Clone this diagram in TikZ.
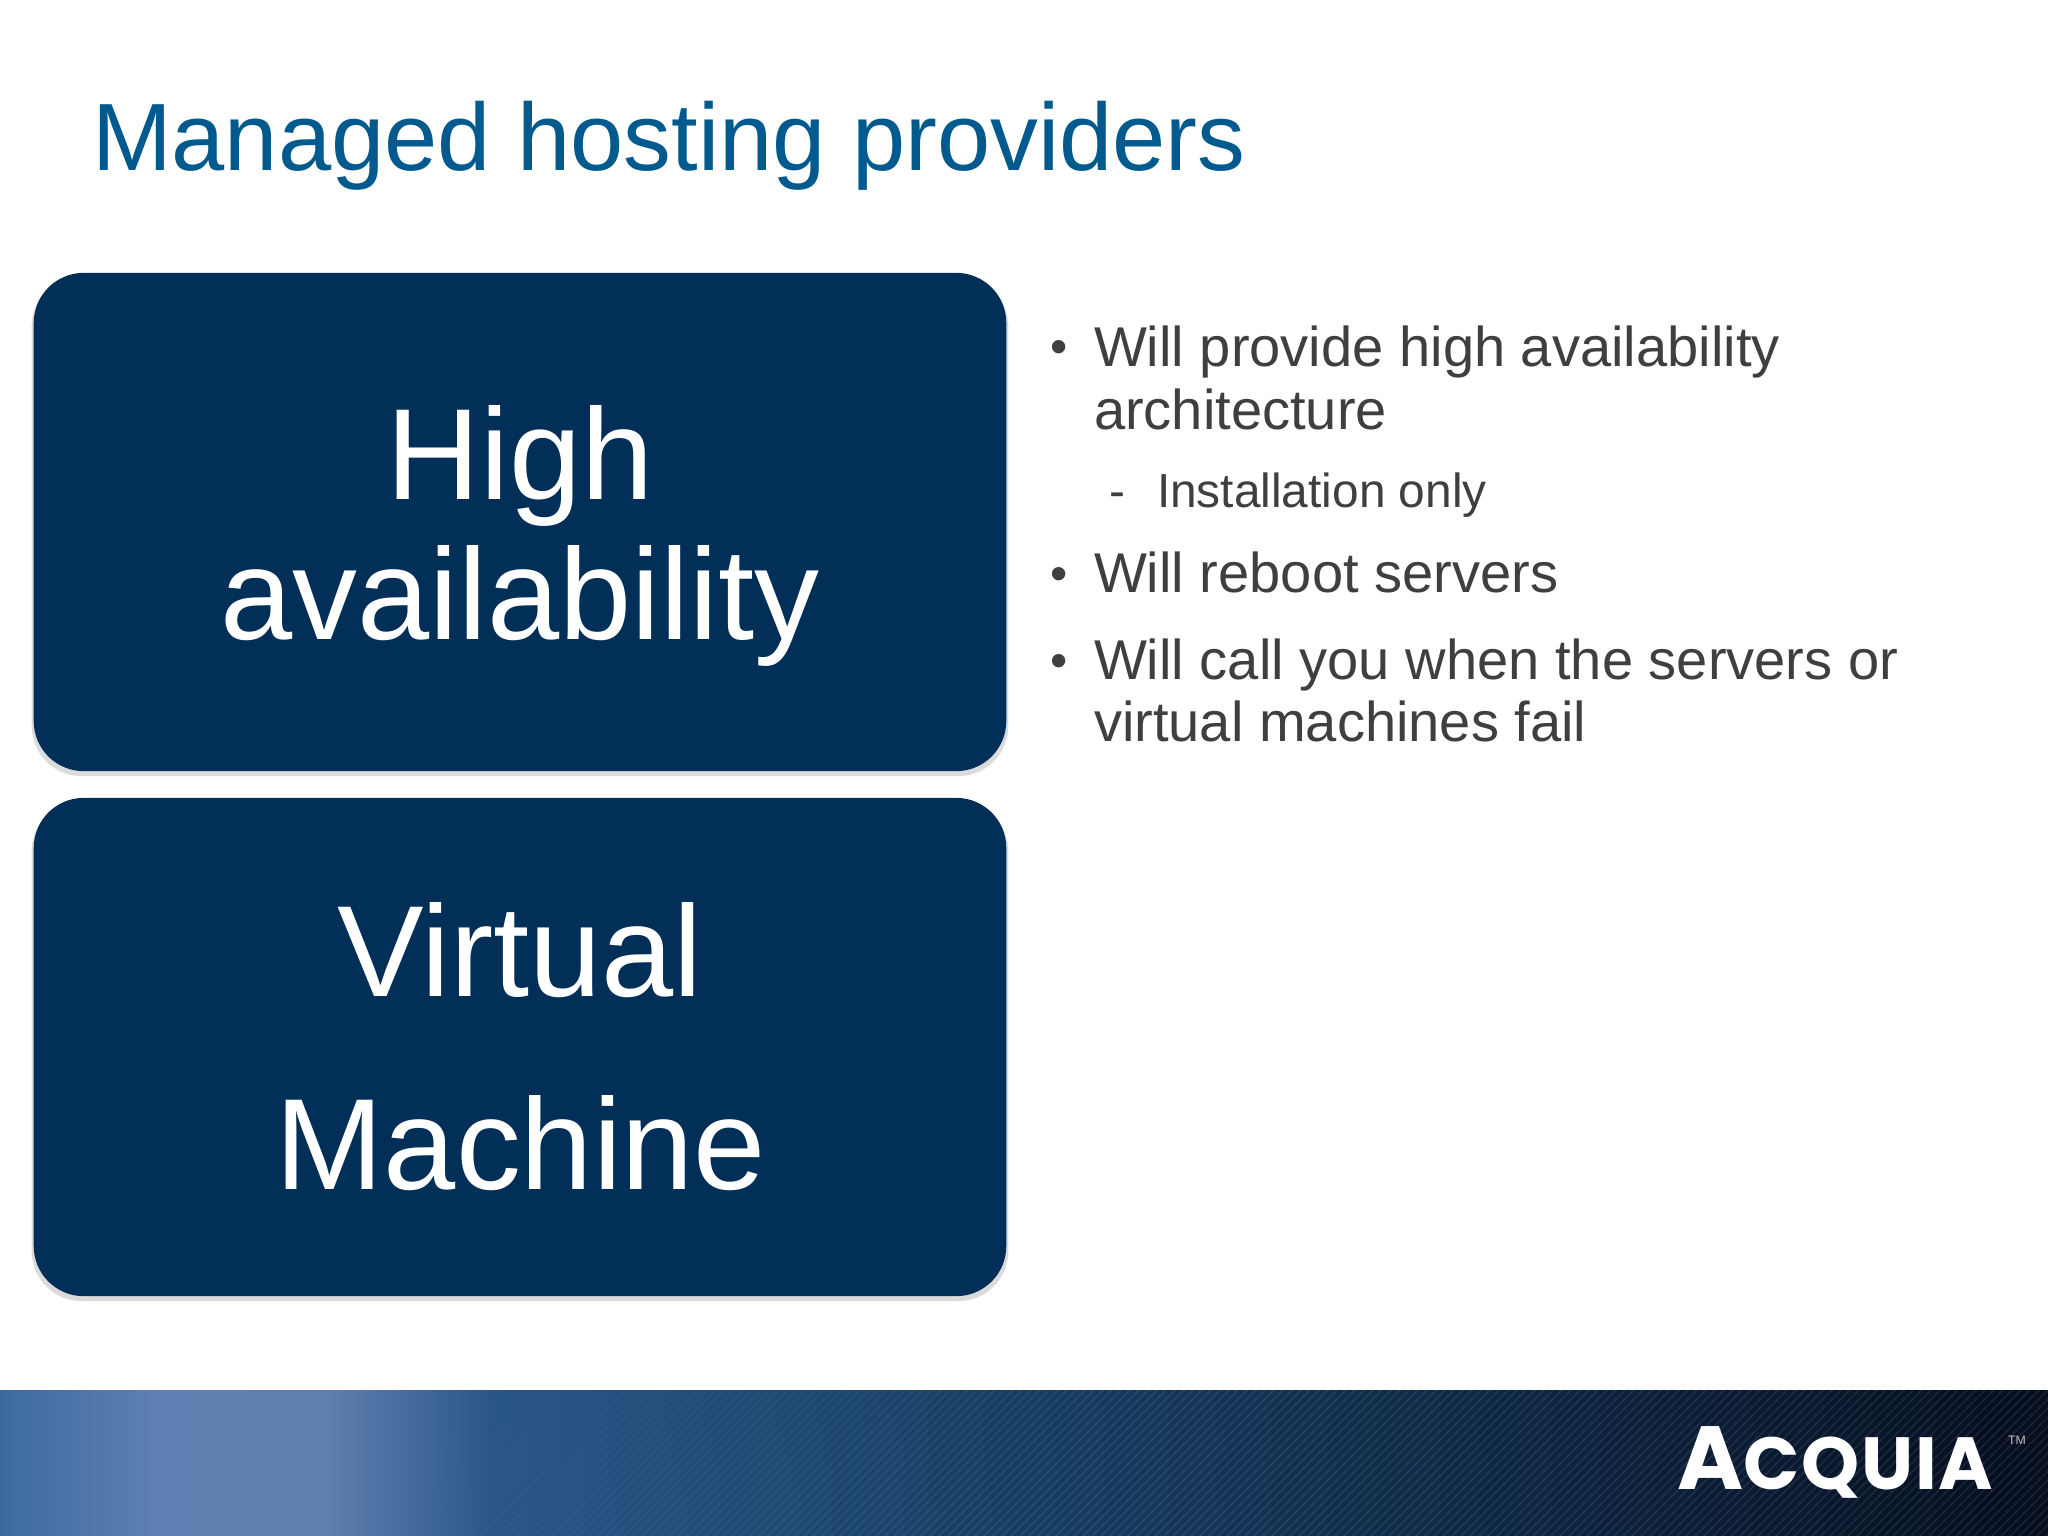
\documentclass[tikz,border=0pt]{standalone}
\usepackage{fontspec}
\setmainfont{Liberation Sans}
\newfontfamily\logofont[LetterSpace=2.5]{Poppins}
\usetikzlibrary{positioning}
\definecolor{titleblue}{HTML}{005A8E}
\definecolor{boxblue}{HTML}{022F58}
\definecolor{bodygrey}{HTML}{3F3F3F}
\definecolor{foota}{HTML}{3D6AA0}
\definecolor{footb}{HTML}{6080B3}
\definecolor{footc}{HTML}{5F7FB0}
\definecolor{footd}{HTML}{2A5687}
\definecolor{foote}{HTML}{163D62}
\definecolor{footf}{HTML}{0D2642}
\definecolor{footg}{HTML}{050D1E}
\pgfdeclarehorizontalshading{footershade}{100bp}{
  color(0bp)=(foota);
  color(25bp)=(foota);
  color(29bp)=(footb);
  color(33bp)=(footc);
  color(37bp)=(footd);
  color(50bp)=(foote);
  color(62bp)=(footf);
  color(75bp)=(footg);
  color(100bp)=(footg)}
\tikzset{
  bigbox/.style={fill=boxblue,rounded corners=.5cm,minimum width=9.72cm,minimum height=4.98cm},
  boxshadow/.style={fill=black!35,rounded corners=.5cm,minimum width=9.76cm,minimum height=5cm},
  bigtext/.style={anchor=base,text=white,font=\fontsize{36.9}{37}\selectfont},
  bullettext/.style={anchor=base west,text=bodygrey,font=\fontsize{15.95}{18}\selectfont},
  dottext/.style={anchor=base west,text=bodygrey,font=\fontsize{14}{18}\selectfont},
  subtext/.style={anchor=base west,text=bodygrey,font=\fontsize{13.6}{16}\selectfont}
}
\begin{document}
\begin{tikzpicture}
  [x=.01cm,y=-.01cm,every node/.style={inner sep=0pt,outer sep=0pt}]
\useasboundingbox (0,0) rectangle (2048,1536);
\fill[white] (0,0) rectangle (2048,1536);

\node (title)[anchor=base west,text=titleblue,font=\fontsize{27.2}{30}\selectfont] at (92,170) {Managed hosting providers};

% the two boxes
\node (shadow1)[boxshadow,opacity=.4] at (520,526) {};
\node (shadow2)[boxshadow,opacity=.4] at (520,1051) {};
\node (habox)[bigbox] at (520,522) {};
\node (vmbox)[bigbox] at (520,1047) {};

\node (high)[bigtext] at (520,499) {High};
\node (avail)[bigtext] at (520,639) {availability};
\node (virtual)[bigtext] at (520,996) {Virtual};
\node (machine)[bigtext] at (521,1189) {Machine};

% right column
\node (dot1)[dottext] at (1050,363) {•};
\node (line1)[bullettext] at (1094,366) {Will provide high availability};
\node (line2)[bullettext] at (1094,429) {architecture};
\node (dash1)[subtext] at (1109,507) {-};
\node (line3)[subtext] at (1157,507) {Installation only};
\node (dot2)[dottext] at (1050,590) {•};
\node (line4)[bullettext] at (1094,592) {Will reboot servers};
\node (dot3)[dottext] at (1050,677) {•};
\node (line5)[bullettext] at (1094,679) {Will call you when the servers or};
\node (line6)[bullettext] at (1094,741) {virtual machines fail};

% footer
\shade[shading=footershade] (0,1390) rectangle (2048,1536);
\begin{scope}
  \clip (0,1390) rectangle (2048,1536);
  \foreach \i in {300,309,...,2100}{
    \pgfmathsetmacro\lineop{min(.08,max(0,(\i-300)/9000))}
    \draw[white,opacity=\lineop,line width=.5pt] (\i,1536) -- (\i+146,1390);
  }
\end{scope}
\node (logo)[anchor=base west,text=white,font=\logofont\bfseries\fontsize{21}{21}\selectfont] at (1677,1489) {{\fontsize{25.5}{26}\selectfont A}CQUIA};
\node (tm)[anchor=base west,text=white!75!black,font=\fontsize{3.5}{4}\selectfont] at (2008,1444) {TM};
\end{tikzpicture}
\end{document}
